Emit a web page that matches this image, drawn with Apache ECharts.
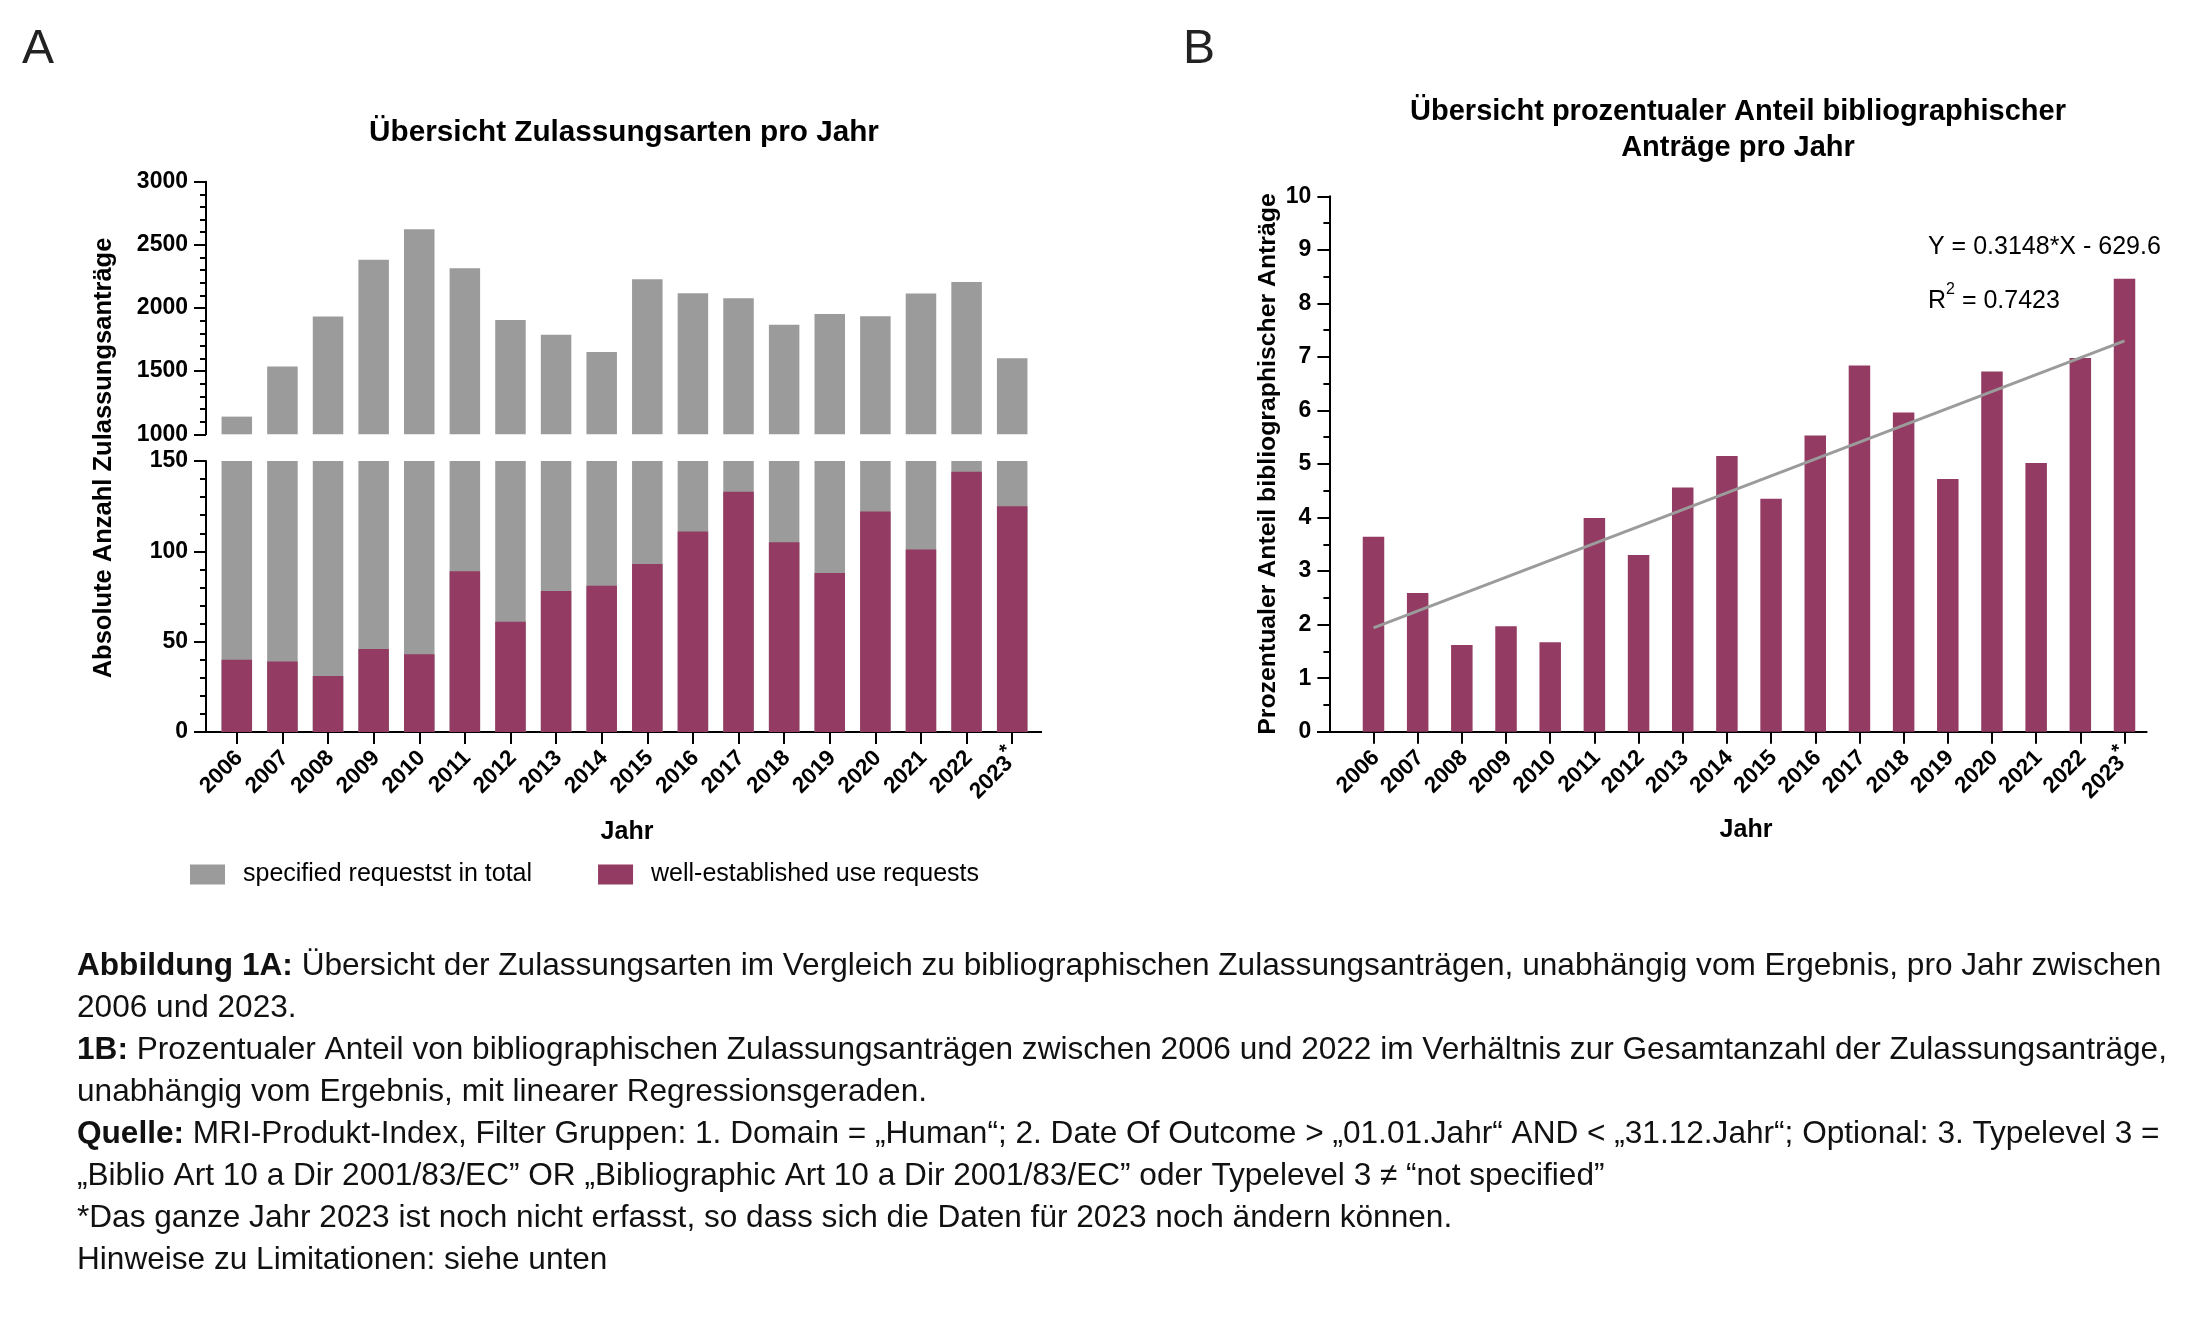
<!DOCTYPE html>
<html>
<head>
<meta charset="utf-8">
<script src="https://cdn.jsdelivr.net/npm/echarts@6/dist/echarts.min.js"></script>
<style>
html,body{margin:0;padding:0;background:#fff;}
#chart{width:2192px;height:1338px;}
</style>
</head>
<body>
<div id="chart"></div>
<script>
// ---- data ----
const years = ['2006','2007','2008','2009','2010','2011','2012','2013','2014','2015','2016','2017','2018','2019','2020','2021','2022','2023*'];
const totalRequests = [1140,1536,1932,2383,2623,2314,1905,1789,1652,2227,2116,2077,1868,1953,1934,2114,2206,1602];
const wellEstablished = [40,39,31,46,43,89,61,78,81,93,111,133,105,88,122,101,144,125];
const biblioPercent = [3.64,2.59,1.62,1.97,1.67,3.99,3.30,4.56,5.15,4.35,5.53,6.84,5.96,4.72,6.73,5.02,6.98,8.46];
const trendEnds = [1.94, 7.30]; // regression line at 2006 and 2023
const upperTicks = {min:1000, max:3000, interval:500};
const lowerTicks = {min:0, max:150, interval:50};
const pctTicks = {min:0, max:10, interval:1};
const seriesNames = ['specified requestst in total', 'well-established use requests'];

const FONT = '"Liberation Sans", Arial, Helvetica, sans-serif';
const GRAY = '#9b9b9b';
const MAROON = '#943b63';

const trendData = years.map((y,i)=> i===0 ? trendEnds[0] : (i===years.length-1 ? trendEnds[1] : null));

const chart = echarts.init(document.getElementById('chart'), null, {renderer:'canvas', width:2192, height:1338});

function yAxisCommon(gridIndex, t, offset, minorSplit){
  return {
    type:'value', gridIndex, min:t.min, max:t.max, interval:t.interval, offset,
    axisLine:{show:true, lineStyle:{color:'#000', width:2}},
    axisTick:{show:true, length:12, lineStyle:{color:'#000', width:2}},
    minorTick:{show:true, splitNumber:minorSplit, length:6, lineStyle:{color:'#000', width:2}},
    splitLine:{show:false},
    axisLabel:{color:'#000', fontFamily:FONT, fontWeight:'bold', fontSize:23, margin:18, formatter: v => String(v)}
  };
}
function xAxisCommon(gridIndex, show){
  return {
    type:'category', gridIndex, data:years, boundaryGap:true,
    show,
    axisLine:{show:true, lineStyle:{color:'#000', width:2}},
    axisTick:{show:true, alignWithLabel:true, length:12, lineStyle:{color:'#000', width:2}},
    axisLabel:{
      rotate:45, interval:0, margin:20, color:'#000',
      formatter: v => v.endsWith('*') ? '{y|' + v.slice(0,-1) + '}{s|*}' : '{y|' + v + '}',
      rich:{
        y:{fontFamily:FONT, fontWeight:'bold', fontSize:22.5, color:'#000', lineHeight:30, verticalAlign:'bottom'},
        s:{fontFamily:FONT, fontWeight:'bold', fontSize:20, color:'#000', lineHeight:20, verticalAlign:'top'}
      }
    }
  };
}

const captionLines = [
  '{b|Abbildung 1A:} Übersicht der Zulassungsarten im Vergleich zu bibliographischen Zulassungsanträgen, unabhängig vom Ergebnis, pro Jahr zwischen',
  '2006 und 2023.',
  '{b|1B:} Prozentualer Anteil von bibliographischen Zulassungsanträgen zwischen 2006 und 2022 im Verhältnis zur Gesamtanzahl der Zulassungsanträge,',
  'unabhängig vom Ergebnis, mit linearer Regressionsgeraden.',
  '{b|Quelle:} MRI-Produkt-Index, Filter Gruppen: 1. Domain = „Human“; 2. Date Of Outcome > „01.01.Jahr“ AND < „31.12.Jahr“; Optional: 3. Typelevel 3 =',
  '„Biblio Art 10 a Dir 2001/83/EC” OR „Bibliographic Art 10 a Dir 2001/83/EC” oder Typelevel 3 ≠ “not specified”',
  '*Das ganze Jahr 2023 ist noch nicht erfasst, so dass sich die Daten für 2023 noch ändern können.',
  'Hinweise zu Limitationen: siehe unten'
];
const CAP = 31.6;
const captionEls = captionLines.map((t,i)=>({
  type:'text', x:77, y:966 + i*42,
  style:{text:t, fontFamily:FONT, fontSize:CAP, fill:'#111', align:'left', verticalAlign:'middle',
    rich:{b:{fontFamily:FONT, fontSize:CAP, fontWeight:'bold', fill:'#111'}}}
}));

function txt(x,y,text,size,weight,extra){
  return Object.assign({type:'text', x, y, style:{text, fontFamily:FONT, fontSize:size, fontWeight:weight||'normal', fill:'#000', align:'center', verticalAlign:'middle'}}, extra||{});
}
function hline(x1,x2,y){
  return {type:'line', shape:{x1,y1:y,x2,y2:y}, style:{stroke:'#000', lineWidth:2}, z:10};
}

const option = {
  animation:false,
  backgroundColor:'#fff',
  grid:[
    {left:214, top:181.7, width:821, height:252.6},
    {left:214, top:461, width:821, height:271},
    {left:1351.4, top:196.3, width:795.2, height:535.4}
  ],
  xAxis:[
    xAxisCommon(0, false),
    xAxisCommon(1, true),
    xAxisCommon(2, true)
  ],
  yAxis:[
    yAxisCommon(0, upperTicks, 8, 5),
    yAxisCommon(1, lowerTicks, 8, 5),
    yAxisCommon(2, pctTicks, 22, 2)
  ],
  legend:{
    left:185, top:857, itemWidth:35, itemHeight:20, itemGap:66, icon:'rect', selectedMode:false,
    textStyle:{fontFamily:FONT, fontSize:25, color:'#000', padding:[0,0,0,13]},
    data:seriesNames
  },
  series:[
    {name:seriesNames[0], type:'bar', xAxisIndex:0, yAxisIndex:0, data:totalRequests, barWidth:30.5, itemStyle:{color:GRAY}},
    {name:seriesNames[0], type:'bar', xAxisIndex:1, yAxisIndex:1, data:totalRequests, barWidth:30.5, barGap:'-100%', clip:true, itemStyle:{color:GRAY}},
    {name:seriesNames[1], type:'bar', xAxisIndex:1, yAxisIndex:1, data:wellEstablished, barWidth:30.5, barGap:'-100%', itemStyle:{color:MAROON}},
    {name:'Prozentualer Anteil', type:'bar', xAxisIndex:2, yAxisIndex:2, data:biblioPercent, barWidth:21.5, itemStyle:{color:MAROON}},
    {name:'Regression', type:'line', xAxisIndex:2, yAxisIndex:2, data:trendData, connectNulls:true, symbol:'none', lineStyle:{color:GRAY, width:3}, z:5}
  ],
  graphic:[
    {type:'text', x:38, y:50, style:{text:'A', fontFamily:FONT, fontSize:48, fill:'#222', align:'center', verticalAlign:'middle'}},
    {type:'text', x:1199, y:50, style:{text:'B', fontFamily:FONT, fontSize:48, fill:'#222', align:'center', verticalAlign:'middle'}},
    txt(624, 133, 'Übersicht Zulassungsarten pro Jahr', 29.7, 'bold'),
    txt(1738, 112, 'Übersicht prozentualer Anteil bibliographischer', 29, 'bold'),
    txt(1738, 148, 'Anträge pro Jahr', 29, 'bold'),
    txt(104, 458, 'Absolute Anzahl Zulassungsanträge', 25.5, 'bold', {rotation:Math.PI/2}),
    txt(1268, 464, 'Prozentualer Anteil bibliographischer Anträge', 24.8, 'bold', {rotation:Math.PI/2}),
    txt(627, 832, 'Jahr', 25, 'bold'),
    txt(1746, 830, 'Jahr', 25, 'bold'),
    {type:'text', x:1928, y:247, style:{text:'Y = 0.3148*X - 629.6', fontFamily:FONT, fontSize:25, fill:'#000', align:'left', verticalAlign:'middle'}},
    {type:'text', x:1928, y:298, style:{text:'{a|R}{s|2}{a| = 0.7423}', fontFamily:FONT, fontSize:25, fill:'#000', align:'left', verticalAlign:'middle',
      rich:{a:{fontFamily:FONT, fontSize:25, fill:'#000', lineHeight:32, verticalAlign:'bottom'}, s:{fontFamily:FONT, fontSize:16, fill:'#000', lineHeight:16, verticalAlign:'top'}}}},
    hline(195, 215, 732),
    hline(1034, 1042, 732),
    hline(1317, 1352, 732)
  ].concat(captionEls)
};
chart.setOption(option);
</script>
</body>
</html>
